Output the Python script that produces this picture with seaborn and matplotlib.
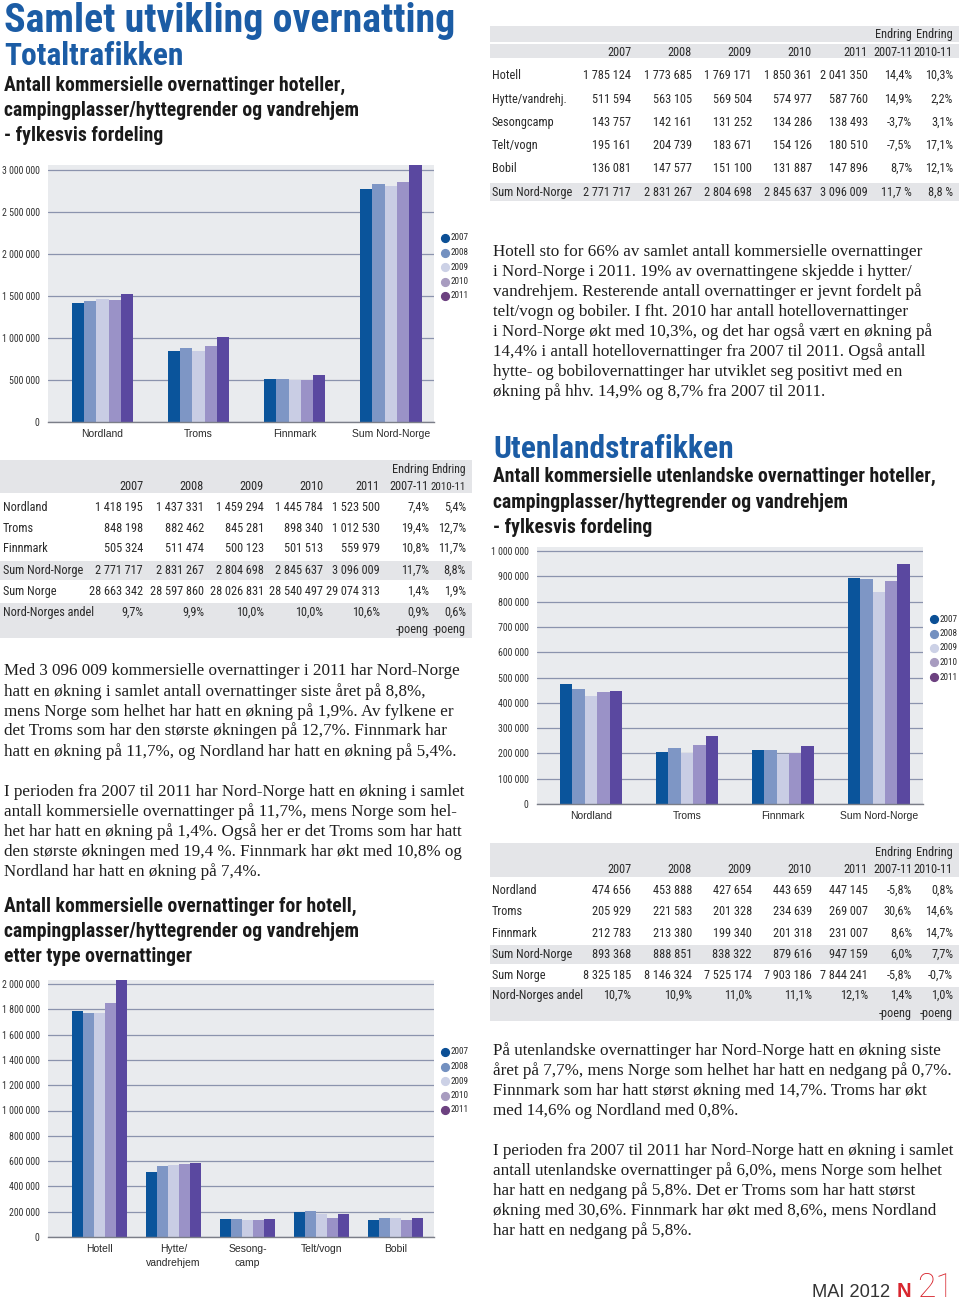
import numpy as np
import pandas as pd
import matplotlib
matplotlib.use("Agg")
import matplotlib.pyplot as plt
from matplotlib import font_manager as fm
from matplotlib.lines import Line2D
from matplotlib.patches import Rectangle
import seaborn as sns

# ------------------------------------------------------------------ data
years = ["2007", "2008", "2009", "2010", "2011"]

# Totaltrafikken - fylkesvis
county_names = ["Nordland", "Troms", "Finnmark", "Sum Nord-Norge"]
tot_nordland = [1418195, 1437331, 1459294, 1445784, 1523500]
tot_troms = [848198, 882462, 845281, 898340, 1012530]
tot_finnmark = [505324, 511474, 500123, 501513, 559979]
tot_sum_nn = [2771717, 2831267, 2804698, 2845637, 3096009]
tot_sum_norge = [28663342, 28597860, 28026831, 28540497, 29074313]
tot_andel = [9.7, 9.9, 10.0, 10.0, 10.6]
tot_chg_0711 = [7.4, 19.4, 10.8, 11.7, 1.4, 0.9]
tot_chg_1011 = [5.4, 12.7, 11.7, 8.8, 1.9, 0.6]

# Totaltrafikken - type overnatting
type_names = ["Hotell", "Hytte/vandrehj.", "Sesongcamp", "Telt/vogn", "Bobil", "Sum Nord-Norge"]
type_chart_labels = ["Hotell", "Hytte/\nvandrehjem", "Sesong-\ncamp", "Telt/vogn", "Bobil"]
type_hotell = [1785124, 1773685, 1769171, 1850361, 2041350]
type_hytte = [511594, 563105, 569504, 574977, 587760]
type_sesong = [143757, 142161, 131252, 134286, 138493]
type_telt = [195161, 204739, 183671, 154126, 180510]
type_bobil = [136081, 147577, 151100, 131887, 147896]
type_chg_0711 = [14.4, 14.9, -3.7, -7.5, 8.7, 11.7]
type_chg_1011 = [10.3, 2.2, 3.1, 17.1, 12.1, 8.8]

# Utenlandstrafikken - fylkesvis
utl_nordland = [474656, 453888, 427654, 443659, 447145]
utl_troms = [205929, 221583, 201328, 234639, 269007]
utl_finnmark = [212783, 213380, 199340, 201318, 231007]
utl_sum_nn = [893368, 888851, 838322, 879616, 947159]
utl_sum_norge = [8325185, 8146324, 7525174, 7903186, 7844241]
utl_andel = [10.7, 10.9, 11.0, 11.1, 12.1]
utl_chg_0711 = [-5.8, 30.6, 8.6, 6.0, -5.8, 1.4]
utl_chg_1011 = [0.8, 14.6, 14.7, 7.7, -0.7, 1.0]

ticks_tot = [0, 500000, 1000000, 1500000, 2000000, 2500000, 3000000]
ticks_utl = [0, 100000, 200000, 300000, 400000, 500000, 600000, 700000, 800000, 900000, 1000000]
ticks_type = [0, 200000, 400000, 600000, 800000, 1000000, 1200000, 1400000, 1600000, 1800000, 2000000]

# ------------------------------------------------------------------ style
bar_colors = ["#0a549b", "#7e96c5", "#c9cde4", "#9a92c7", "#5a48a0"]
legend_colors = ["#0b4f95", "#7390c0", "#ccd1e6", "#a89cc0", "#6c4180"]
BLUE = "#1b5ca5"
BG = "#e9ebee"
GRID = "#8b93ad"
BAND = "#e4e5e8"
TXT = "#2a2a2a"

W, H = 960, 1303
sns.set_style("white")
fig = plt.figure(figsize=(W / 100, H / 100), dpi=100)
fig.patch.set_facecolor("white")
renderer = fig.canvas.get_renderer()

flist = fm.fontManager.ttflist
names = {f.name for f in flist}


def find_narrow():
    for pref in ["Liberation Sans Narrow", "Roboto Condensed", "Noto Sans Condensed",
                 "Open Sans Condensed", "Arial Narrow", "DejaVu Sans Condensed"]:
        if pref in names:
            return {"family": pref}
    for fam in ["Noto Sans", "Open Sans", "Roboto", "DejaVu Sans"]:
        if any(f.name == fam and "condensed" in str(f.stretch) for f in flist):
            return {"family": fam, "fontstretch": "condensed"}
    return {"family": "DejaVu Sans"}


def find_light():
    for fam in ["Roboto", "Lato", "Open Sans", "Noto Sans"]:
        if any(f.name == fam and str(f.weight) in ("300", "200", "light", "extra light")
               for f in flist):
            return {"family": fam, "fontweight": "light"}
    return {"family": "DejaVu Sans", "fontweight": "light"}


NARROW = find_narrow()
HEAD = dict(NARROW, fontweight="bold")
SERIF = {"family": "Liberation Serif" if "Liberation Serif" in names else "DejaVu Serif"}
SANS = {"family": "Liberation Sans" if "Liberation Sans" in names else "DejaVu Sans"}
LIGHT = find_light()


def fx(x):
    return x / W


def fy(y):
    return 1 - y / H


def text_w(s, size, **kw):
    t = fig.text(0, 0, s, fontsize=size, **kw)
    w = t.get_window_extent(renderer).width
    t.remove()
    return w


def fit(s, target, **kw):
    return 20 * target / text_w(s, 20, **kw)


def put(x, y, s, **kw):
    kw.setdefault("va", "baseline")
    kw.setdefault("color", TXT)
    return fig.text(fx(x), fy(y), s, **kw)


def fmt(v):
    return f"{v:,}".replace(",", " ")


def pct(v, sep=""):
    return f"{v:.1f}".replace(".", ",") + sep + "%"


def rect(x0, x1, y0, y1, color=BAND):
    fig.add_artist(Rectangle((fx(x0), fy(y1)), (x1 - x0) / W, (y1 - y0) / H,
                             transform=fig.transFigure, color=color, lw=0, zorder=0))


# ------------------------------------------------------------------ headings
s_title = fit("Samlet utvikling overnatting", 451, **HEAD)
put(4, 32, "Samlet utvikling overnatting", fontsize=s_title, color=BLUE, **HEAD)
s_h2 = fit("Totaltrafikken", 179, **HEAD)
put(4, 65, "Totaltrafikken", fontsize=s_h2, color=BLUE, **HEAD)
put(493, 458, "Utenlandstrafikken", fontsize=s_h2, color=BLUE, **HEAD)

s_sub = fit("Antall kommersielle overnattinger hoteller,", 339, **HEAD)
for i, line in enumerate(["Antall kommersielle overnattinger hoteller,",
                          "campingplasser/hyttegrender og vandrehjem",
                          "- fylkesvis fordeling"]):
    put(4, 91 + 25 * i, line, fontsize=s_sub, color="#1a1a1a", **HEAD)
for i, line in enumerate(["Antall kommersielle utenlandske overnattinger hoteller,",
                          "campingplasser/hyttegrender og vandrehjem",
                          "- fylkesvis fordeling"]):
    put(493, 482 + 25.5 * i, line, fontsize=s_sub, color="#1a1a1a", **HEAD)
for i, line in enumerate(["Antall kommersielle overnattinger for hotell,",
                          "campingplasser/hyttegrender og vandrehjem",
                          "etter type overnattinger"]):
    put(4, 912 + 25 * i, line, fontsize=s_sub, color="#1a1a1a", **HEAD)

# ------------------------------------------------------------------ paragraphs
para_right_top = [
    "Hotell sto for 66% av samlet antall kommersielle overnattinger",
    "i Nord-Norge i 2011. 19% av overnattingene skjedde i hytter/",
    "vandrehjem. Resterende antall overnattinger er jevnt fordelt på",
    "telt/vogn og bobiler. I fht. 2010 har antall hotellovernattinger",
    "i Nord-Norge økt med 10,3%, og det har også vært en økning på",
    "14,4% i antall hotellovernattinger fra 2007 til 2011. Også antall",
    "hytte- og bobilovernattinger har utviklet seg positivt med en",
    "økning på hhv. 14,9% og 8,7% fra 2007 til 2011.",
]
para_left_1 = [
    "Med 3 096 009 kommersielle overnattinger i 2011 har Nord-Norge",
    "hatt en økning i samlet antall overnattinger siste året på 8,8%,",
    "mens Norge som helhet har hatt en økning på 1,9%. Av fylkene er",
    "det Troms som har den største økningen på 12,7%. Finnmark har",
    "hatt en økning på 11,7%, og Nordland har hatt en økning på 5,4%.",
]
para_left_2 = [
    "I perioden fra 2007 til 2011 har Nord-Norge hatt en økning i samlet",
    "antall kommersielle overnattinger på 11,7%, mens Norge som hel-",
    "het har hatt en økning på 1,4%. Også her er det Troms som har hatt",
    "den største økningen med 19,4 %. Finnmark har økt med 10,8% og",
    "Nordland har hatt en økning på 7,4%.",
]
para_right_1 = [
    "På utenlandske overnattinger har Nord-Norge hatt en økning siste",
    "året på 7,7%, mens Norge som helhet har hatt en nedgang på 0,7%.",
    "Finnmark som har hatt størst økning med 14,7%. Troms har økt",
    "med 14,6% og Nordland med 0,8%.",
]
para_right_2 = [
    "I perioden fra 2007 til 2011 har Nord-Norge hatt en økning i samlet",
    "antall utenlandske overnattinger på 6,0%, mens Norge som helhet",
    "har hatt en nedgang på 5,8%. Det er Troms som har hatt størst",
    "økning med 30,6%. Finnmark har økt med 8,6%, mens Nordland",
    "har hatt en nedgang på 5,8%.",
]
s_par = 0.985 * np.mean([fit(para_right_top[0], 432, **SERIF),
                         fit(para_left_1[4], 459, **SERIF),
                         fit(para_left_2[0], 462, **SERIF),
                         fit(para_right_1[0], 461, **SERIF)])


def paragraph(x, y0, lines):
    for i, line in enumerate(lines):
        put(x, y0 + 20 * i, line, fontsize=s_par, color="#1e1e1e", **SERIF)


paragraph(493, 255.5, para_right_top)
paragraph(4, 675.5, para_left_1)
paragraph(4, 795.5, para_left_2)
paragraph(493, 1055, para_right_1)
paragraph(493, 1155, para_right_2)

# ------------------------------------------------------------------ tables
s_tab = fit("28 663 342", 54, **NARROW)


def cell(x, y, s, maxw, ha):
    size = s_tab
    w = text_w(s, size, **NARROW)
    if w > maxw:
        size *= maxw / w
    put(x, y + 4, s, ha=ha, fontsize=size, **NARROW)


def table(x0, x1, lx, rights, head, endring_y, years_y, names_, cells, row_y, bands, poeng_y=None):
    rect(x0, x1, head[0], head[1])
    for b in bands:
        rect(x0, x1, b[0], b[1])
    maxw = [999] + [rights[j] - rights[j - 1] - 2 for j in range(1, len(rights))]
    cell(rights[5], endring_y, "Endring", maxw[5], "right")
    cell(rights[6], endring_y, "Endring", maxw[6], "right")
    for j, yr in enumerate(years):
        cell(rights[j], years_y, yr, maxw[j], "right")
    cell(rights[5], years_y, "2007-11", maxw[5], "right")
    cell(rights[6], years_y, "2010-11", maxw[6], "right")
    for nm, row, y in zip(names_, cells, row_y):
        first_w = text_w(row[0], s_tab, **NARROW)
        cell(lx, y, nm, rights[0] - first_w - lx - 7, "left")
        for j, c in enumerate(row):
            cell(rights[j], y, c, maxw[j], "right")
    if poeng_y is not None:
        cell(rights[5], poeng_y, "-poeng", maxw[5], "right")
        cell(rights[6], poeng_y, "-poeng", maxw[6], "right")


right_cols = [631, 692, 752, 812, 868, 912, 953]
left_cols = [143, 204, 264, 323, 380, 429, 466]

type_rows = [type_hotell, type_hytte, type_sesong, type_telt, type_bobil, tot_sum_nn]
type_cells = []
for i, vals in enumerate(type_rows):
    sep = " " if i == len(type_rows) - 1 else ""
    type_cells.append([fmt(v) for v in vals] + [pct(type_chg_0711[i], sep), pct(type_chg_1011[i], sep)])
table(490, 959, 492, right_cols, (26, 58), 34, 52, type_names, type_cells,
      [75, 99, 122, 145, 168, 192], [(183, 201)])
rect(490, 959, 42, 43.5, color="white")

county_tab_names = ["Nordland", "Troms", "Finnmark", "Sum Nord-Norge", "Sum Norge", "Nord-Norges andel"]
tot_rows = [tot_nordland, tot_troms, tot_finnmark, tot_sum_nn, tot_sum_norge]
tot_cells = [[fmt(v) for v in vals] + [pct(tot_chg_0711[i]), pct(tot_chg_1011[i])]
             for i, vals in enumerate(tot_rows)]
tot_cells.append([pct(v) for v in tot_andel] + [pct(tot_chg_0711[5]), pct(tot_chg_1011[5])])
table(0, 472, 3, left_cols, (460, 493), 469, 486, county_tab_names, tot_cells,
      [507, 528, 548, 570, 591, 612], [(561, 580), (603, 638)], poeng_y=629)

utl_rows = [utl_nordland, utl_troms, utl_finnmark, utl_sum_nn, utl_sum_norge]
utl_cells = [[fmt(v) for v in vals] + [pct(utl_chg_0711[i]), pct(utl_chg_1011[i])]
             for i, vals in enumerate(utl_rows)]
utl_cells.append([pct(v) for v in utl_andel] + [pct(utl_chg_0711[5]), pct(utl_chg_1011[5])])
table(490, 959, 492, right_cols, (843, 877), 852, 869, county_tab_names, utl_cells,
      [890, 911, 933, 954, 975, 995], [(945, 964), (987, 1021)], poeng_y=1013)

# ------------------------------------------------------------------ charts
s_tick = fit("3 000 000", 39, **NARROW)
s_cat = fit("Sum Nord-Norge", 78, **SANS)
s_leg = fit("2007", 18, **NARROW)


def chart(box, cats, labels, series, ymax, yticks, xlim, width, leg):
    left, right, top, bottom = box
    ax = fig.add_axes([fx(left), fy(bottom), (right - left) / W, (bottom - top) / H])
    df = pd.DataFrame({
        "kategori": np.repeat(cats, len(years)),
        "år": years * len(cats),
        "verdi": np.concatenate(series),
    })
    sns.barplot(data=df, x="kategori", y="verdi", hue="år", order=cats, hue_order=years,
                palette=bar_colors, saturation=1, width=width, errorbar=None,
                legend=False, linewidth=0, ax=ax)
    ax.set_facecolor(BG)
    ax.set_ylim(0, ymax)
    ax.set_xlim(*xlim)
    ax.set_yticks(yticks)
    ax.set_yticklabels([fmt(v) for v in yticks], fontsize=s_tick, color="#333333", **NARROW)
    ax.set_xticks(range(len(cats)))
    ax.set_xticklabels(labels, fontsize=s_cat, color="#2a2a2a", linespacing=1.45, **SANS)
    ax.set_xlabel("")
    ax.set_ylabel("")
    ax.grid(axis="y", color=GRID, lw=0.9)
    ax.grid(axis="x", visible=False)
    ax.set_axisbelow(True)
    for s in ["top", "right", "left"]:
        ax.spines[s].set_visible(False)
    ax.spines["bottom"].set_color("#7b7e88")
    ax.spines["bottom"].set_linewidth(1.0)
    ax.tick_params(axis="y", length=4, width=0.9, color=GRID, pad=2)
    ax.tick_params(axis="x", length=0, pad=5)
    lx, ly = leg
    for i, (yr, c) in enumerate(zip(years, legend_colors)):
        yy = ly + 14.5 * i
        fig.add_artist(Line2D([fx(lx)], [fy(yy)], marker="o", ms=5.6, color=c, ls="",
                              transform=fig.transFigure))
        put(lx + 6, yy, yr, fontsize=s_leg, va="center", ha="left", **NARROW)
    return ax


chart((48, 434, 165, 422), county_names, county_names,
      [tot_nordland, tot_troms, tot_finnmark, tot_sum_nn],
      3e6 * (422 - 165) / (422 - 169.5), ticks_tot, (-0.567, 3.45), 0.64, (445, 238))

chart((537, 923, 547, 804), county_names, county_names,
      [utl_nordland, utl_troms, utl_finnmark, utl_sum_nn],
      1e6 * (804 - 547) / (804 - 551), ticks_utl, (-0.5625, 3.46), 0.645, (934, 619))

chart((48, 434, 980, 1237), type_names[:5], type_chart_labels,
      [type_hotell, type_hytte, type_sesong, type_telt, type_bobil],
      2e6 * (1237 - 980) / (1237 - 984), ticks_type, (-0.70, 4.52), 0.74, (445, 1052))

# ------------------------------------------------------------------ footer
s_foot = fit("MAI 2012", 78, **SANS)
put(812, 1297, "MAI 2012", fontsize=s_foot, color="#333333", **SANS)
put(897, 1297, "N", fontsize=s_foot * 1.1, color="#d8262e", fontweight="bold", **SANS)
s_pg = fit("21", 37, **LIGHT)
put(917, 1297, "21", fontsize=s_pg, color="#d8262e", **LIGHT)

fig.savefig("out.png", dpi=100, facecolor="white")
